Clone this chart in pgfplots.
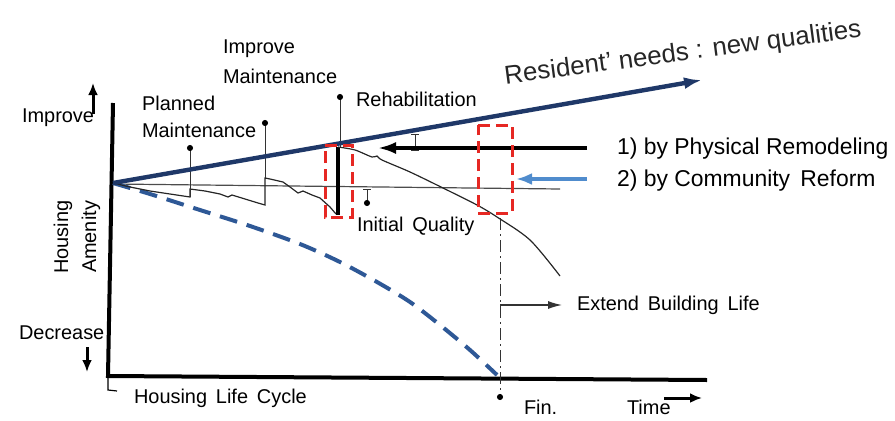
\documentclass[border=0pt]{standalone}
\usepackage{pgfplots}
\pgfplotsset{compat=1.18}
\usepackage{fontspec}
\setmainfont{Liberation Sans}
\usetikzlibrary{arrows.meta}
\definecolor{NeedBlue}{RGB}{31,56,104}
\definecolor{DashBlue}{RGB}{46,88,150}
\definecolor{ArrBlue}{RGB}{80,140,205}
\definecolor{TxtGray}{RGB}{60,60,60}
\definecolor{BoxRed}{RGB}{230,40,35}

\begin{document}
\begin{tikzpicture}
\begin{axis}[
    scale only axis,
    width=447.5bp, height=208bp,
    xmin=0, xmax=895, ymin=0, ymax=416,
    y dir=reverse,
    axis lines=none,
    clip=false,
    every node/.style={text=TxtGray, font=\fontsize{10}{12}\selectfont, inner sep=0pt},
]
% invisible frame so the page covers the whole axis
\addplot[draw=none] coordinates {(0,0) (895,416)};

% axes of the sketch
\addplot[black, line width=2bp] coordinates {(113,103) (108,376) (707,380)};
\addplot[black, line width=0.6pt] coordinates {(108,378) (108,390) (117,391)};
% initial quality level
\addplot[black!70, line width=0.6pt] coordinates {(113,184) (560,189)};

% deterioration without maintenance
\addplot[DashBlue, line width=2bp, dash pattern=on 9bp off 5bp, smooth] coordinates {
    (113,183) (150,194) (200,210) (250,226) (300,244) (340,262)
    (377,282) (410,302) (440,325) (470,350) (497,375)};

% maintenance sawtooth
\addplot[black!85, line width=0.6pt] coordinates {
    (113,183) (130,187) (150,191) (170,194) (190,197) (190,189)
    (205,191) (220,194) (228,197) (232,195) (245,199) (258,203) (265,205)
    (265,178) (270,179) (283,182) (290,187) (298,193) (303,191)
    (312,195) (320,198) (330,207) (336,214)};
\addplot[black, line width=1.6bp] coordinates {(338,215) (338,147)};
\addplot[black!85, line width=0.6pt, smooth] coordinates {
    (338,147) (355,150) (372,157) (377,156) (382,160) (410,172)
    (443,188) (477,205) (497,217) (530,240) (560,276)};

% pointers with dots
\addplot[black!80, line width=0.5pt] coordinates {(190,197) (190,148)};
\addplot[black!80, line width=0.5pt] coordinates {(265,178) (265,123)};
\addplot[black!80, line width=0.5pt] coordinates {(340,147) (340,97)};
\addplot[black!80, line width=0.5pt] coordinates {(367,189) (367,203)};
\addplot[black!80, line width=0.5pt] coordinates {(363,189) (371,189)};
\addplot[black!80, line width=0.5pt] coordinates {(415,134) (415,150)};
\addplot[black!80, line width=0.5pt] coordinates {(411,134) (419,134)};
\addplot[black!80, line width=0.5pt] coordinates {(411,150) (419,150)};
\addplot[black, only marks, mark=*, mark size=1.3bp] coordinates {
    (190,148) (265,123) (340,97) (367,203) (500,397)};

% resident needs
\addplot[NeedBlue, line width=2.2bp, -{Latex[length=9bp,width=6bp]}] coordinates {(113,183) (702,80)};

% remodeling arrows
\addplot[black, line width=1.6bp, -{Latex[length=9bp,width=6bp]}] coordinates {(587,148) (378,148)};
\addplot[ArrBlue, line width=1.6bp, -{Latex[length=8bp,width=6bp]}] coordinates {(587,179) (516,179)};

% red dashed boxes
\addplot[BoxRed, line width=1.5bp, dash pattern=on 6bp off 3bp] coordinates {
    (325,145) (352,145) (352,217) (325,217) (325,145)};
\addplot[BoxRed, line width=1.5bp, dash pattern=on 6bp off 3bp] coordinates {
    (478,125) (512,125) (512,213) (478,213) (478,125)};

% building life end
\addplot[black!80, line width=0.5pt, dash pattern=on 6bp off 2bp on 1bp off 2bp] coordinates {(500,218) (500,397)};
\addplot[black!80, line width=0.6pt, -{Latex[length=7bp,width=4bp]}] coordinates {(500,305) (562,305)};

% direction arrows
\addplot[black, line width=1.5bp, -{Latex[length=6bp,width=5bp]}] coordinates {(93,114) (93,83)};
\addplot[black, line width=1.5bp, -{Latex[length=6bp,width=5bp]}] coordinates {(87,347) (87,372)};
\addplot[black, line width=1.5bp, -{Latex[length=6bp,width=5bp]}] coordinates {(664,398) (702,398)};

% labels
\node[anchor=west] at (15,118) {Improve};
\node[anchor=west] at (12,333) {Decrease};
\node[rotate=90] at (63,237) {Housing};
\node[rotate=90] at (91,237) {Amenity};
\node[anchor=west] at (127,398) {Housing\, Life\, Cycle};
\node[anchor=west] at (135,103) {Planned};
\node[anchor=west] at (135,130) {Maintenance};
\node[anchor=west] at (216,49) {Improve};
\node[anchor=west] at (216,76) {Maintenance};
\node[anchor=west] at (349,99) {Rehabilitation};
\node[anchor=west] at (350,226) {Initial\, Quality};
\node[anchor=west] at (570,305) {Extend\, Building\, Life};
\node[anchor=west] at (517,407) {Fin.};
\node[anchor=west] at (620,407) {Time};
\node[anchor=west, font=\fontsize{11.5}{13}\selectfont] at (610,149) {1) by Physical Remodeling};
\node[anchor=west, font=\fontsize{11.5}{13}\selectfont] at (610,181) {2) by Community\, Reform};
\node[rotate=7.5, text=black!85, font=\fontsize{13}{15}\selectfont] at (683,54) {Resident’ needs : new qualities};
\end{axis}
\end{tikzpicture}
\end{document}
